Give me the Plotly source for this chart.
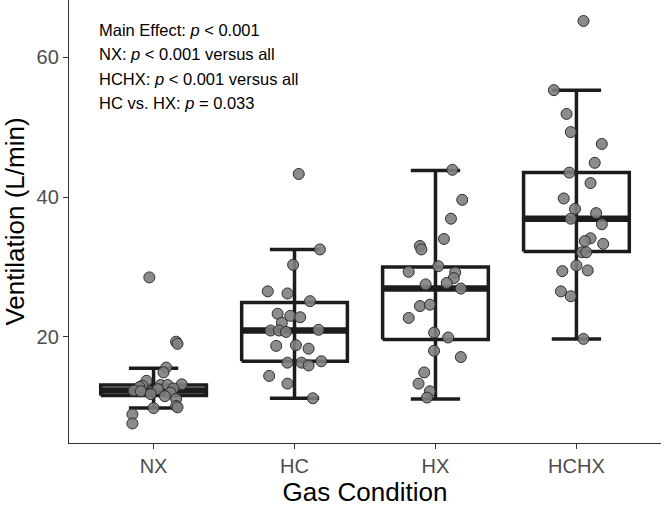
import plotly.graph_objects as go

# categories
groups = ["NX", "HC", "HX", "HCHX"]

# individual values (L/min) and horizontal jitter
nx_vals = [28.5, 19.3, 19.0, 15.6, 14.9, 13.7, 13.2, 13.1, 13.1, 13.0, 12.8, 12.6,
           12.5, 12.3, 12.2, 12.0, 11.8, 11.5, 11.1, 10.1, 9.9, 9.8, 8.9, 7.6]
nx_jit = [-0.03, 0.16, 0.17, 0.09, 0.07, -0.05, 0.20, 0.05, 0.10, -0.08, -0.10, 0.14,
          0.03, -0.14, -0.09, 0.12, -0.02, 0.08, 0.16, 0.16, 0.17, 0.0, -0.15, -0.15]

hc_vals = [43.3, 32.5, 30.3, 26.5, 26.2, 25.1, 23.3, 23.0, 22.8, 22.0, 20.9, 20.9,
           20.7, 21.0, 18.7, 18.8, 18.3, 16.3, 16.3, 15.9, 16.5, 14.4, 13.3, 11.2]
hc_jit = [0.03, 0.18, -0.01, -0.19, -0.05, 0.11, -0.12, -0.03, 0.04, -0.09, -0.17, -0.11,
          -0.06, 0.17, -0.13, 0.01, 0.10, -0.05, 0.05, 0.10, 0.19, -0.18, -0.05, 0.13]

hx_vals = [43.9, 39.6, 36.9, 34.0, 33.0, 32.5, 30.1, 29.3, 29.2, 28.4, 27.7, 27.5,
           26.9, 24.4, 24.6, 22.7, 20.6, 19.9, 18.0, 17.1, 14.9, 13.3, 12.2, 11.3]
hx_jit = [0.12, 0.19, 0.11, 0.06, -0.11, -0.10, 0.02, -0.19, 0.14, 0.13, 0.08, -0.07,
          0.18, -0.11, -0.04, -0.19, -0.01, 0.09, -0.01, 0.18, -0.08, -0.12, -0.04, -0.06]

hchx_vals = [65.2, 55.3, 51.9, 49.3, 47.6, 44.9, 43.5, 42.0, 39.8, 38.3, 37.7, 36.9,
             36.1, 34.1, 33.7, 33.3, 32.1, 32.1, 30.2, 29.4, 29.5, 26.5, 25.8, 19.7]
hchx_jit = [0.05, -0.16, -0.07, -0.04, 0.18, 0.13, -0.05, 0.10, -0.09, -0.01, 0.14, -0.04,
            0.18, 0.10, 0.06, 0.19, 0.04, 0.07, 0.0, -0.10, 0.08, -0.11, -0.04, 0.05]

# box summary per group
q1 = [11.6, 16.5, 19.6, 32.2]
med = [12.3, 20.9, 26.9, 36.9]
q3 = [13.1, 24.9, 30.0, 43.5]
whisk_lo = [9.8, 11.2, 11.1, 19.7]
whisk_hi = [15.5, 32.5, 43.8, 55.3]

values = [nx_vals, hc_vals, hx_vals, hchx_vals]
jitter = [nx_jit, hc_jit, hx_jit, hchx_jit]

DARK = '#1c1c1c'
BOX_HW = 0.375
CAP_HW = 0.175
FONT = 'Liberation Sans, Arial, sans-serif'

fig = go.Figure()

for i, g in enumerate(groups):
    pos = i + 1
    # whisker (error bar style, full range)
    fig.add_trace(go.Scatter(
        x=[pos, pos, None, pos - CAP_HW, pos + CAP_HW, None, pos - CAP_HW, pos + CAP_HW],
        y=[whisk_lo[i], whisk_hi[i], None, whisk_lo[i], whisk_lo[i], None, whisk_hi[i], whisk_hi[i]],
        mode='lines', line=dict(color=DARK, width=3.5), hoverinfo='skip'))
    # box
    fig.add_trace(go.Scatter(
        x=[pos - BOX_HW, pos + BOX_HW, pos + BOX_HW, pos - BOX_HW, pos - BOX_HW],
        y=[q1[i], q1[i], q3[i], q3[i], q1[i]],
        mode='lines', line=dict(color=DARK, width=3.5), hoverinfo='skip'))
    # median
    fig.add_trace(go.Scatter(
        x=[pos - BOX_HW, pos + BOX_HW], y=[med[i], med[i]],
        mode='lines', line=dict(color=DARK, width=6.5), hoverinfo='skip'))

for i, g in enumerate(groups):
    pos = i + 1
    fig.add_trace(go.Scatter(
        x=[pos + j for j in jitter[i]], y=values[i], mode='markers', name=g,
        marker=dict(size=11, color='rgba(128,128,128,0.9)',
                    line=dict(color='#2e2e2e', width=1))))

notes = ["Main Effect: <i>p</i> < 0.001",
         "NX: <i>p</i> < 0.001 versus all",
         "HCHX: <i>p</i> < 0.001 versus all",
         "HC vs. HX: <i>p</i> = 0.033"]
for k, t in enumerate(notes):
    fig.add_annotation(text=t, xref='paper', yref='paper', x=(97 - 69) / 592,
                       y=1 - (30 + 24.3 * k) / 443,
                       xanchor='left', yanchor='middle', showarrow=False,
                       font=dict(size=16.5, color='black', family=FONT))

fig.update_layout(
    width=664, height=509,
    margin=dict(l=69, r=3, t=0, b=66),
    paper_bgcolor='white', plot_bgcolor='white',
    showlegend=False,
    font=dict(family=FONT),
    xaxis=dict(range=[0.4, 4.6], tickvals=[1, 2, 3, 4], ticktext=groups, automargin=False,
               showgrid=False, zeroline=False, showline=True, linecolor='#333333', linewidth=1.3,
               ticks='outside', ticklen=5, tickcolor='#333333',
               tickfont=dict(size=20, color='#4d4d4d'),
               title=dict(text='Gas Condition', font=dict(size=26, color='black'), standoff=4)),
    yaxis=dict(range=[4.8, 68.2], tickvals=[20, 40, 60], automargin=False,
               showgrid=False, zeroline=False, showline=True, linecolor='#333333', linewidth=1.3,
               ticks='outside', ticklen=5, tickcolor='#333333',
               tickfont=dict(size=20, color='#4d4d4d'),
               title=dict(text='Ventilation (L/min)', font=dict(size=26, color='black'), standoff=8)),
)

# the page body has a default 8px margin; drop it so the figure sits at the window corner
fig.write_html("out.html", config={'displayModeBar': False},
               post_script="document.body.style.margin='0';")
